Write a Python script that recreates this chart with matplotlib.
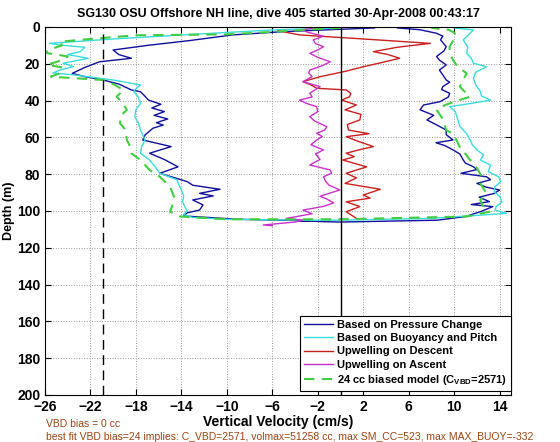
import matplotlib
matplotlib.use('Agg')
import matplotlib.pyplot as plt

plt.rcParams['font.family'] = ['Liberation Sans', 'DejaVu Sans']
plt.rcParams['mathtext.fontset'] = 'custom'
plt.rcParams['mathtext.rm'] = 'Liberation Sans:bold'
plt.rcParams['mathtext.bf'] = 'Liberation Sans:bold'

title = 'SG130 OSU Offshore NH line, dive 405 started 30-Apr-2008 00:43:17'

# Based on Pressure Change (descent, bottom, ascent)
press_depth = [0.5, 1.5, 2.5, 4.3, 7.4, 10, 12.5, 15, 17, 18.9, 22, 25.2, 27, 28.8, 31,
               34.2, 35.2, 37, 39.7, 42, 44, 46, 48, 50, 52, 53.3, 55, 58.7, 61.4, 65,
               68.6, 72, 76, 79.5, 84, 86, 88.2, 90.4, 91.8, 94, 96.7, 99.5, 101, 102.7,
               104.5, 105.3, 105.2, 105.8, 106, 105, 103, 100.4, 97.6, 96.5, 94.9, 92.5,
               90.5, 88.6, 87, 85, 83, 81.4, 79.5, 77.5, 76, 74, 72.3, 69, 66.8, 64.5,
               62.9, 61.4, 58.5, 56, 53, 50.5, 48, 45, 42.4, 40.6, 38, 36, 34, 32.4, 30,
               28.8, 26, 23.4, 20.6, 18, 16, 13, 10.7, 7, 5, 3.4, 1.5, 0.5]
press_vel = [3, -1, -5, -9.5, -13.3, -17, -20, -19.5, -18.4, -21.2, -22.5, -23.6, -22.5,
             -20.9, -19.5, -18.4, -17.6, -17.3, -16.9, -15.8, -16.6, -15.5, -16.4, -15.2,
             -16.2, -15.6, -16.5, -17.2, -17.4, -14.9, -16.8, -15.5, -14.3, -15.9, -13.5,
             -13, -10.6, -12.4, -11.2, -13, -12.1, -12.4, -13.5, -13.8, -9, -2.7, -3.8,
             -1.5, 0, 8.5, 11, 12.3, 13.4, 11.5, 13.1, 12.2, 13.5, 14, 12.8, 12, 13.2,
             12.85, 10.6, 12, 11.7, 11, 10.8, 10.5, 9.9, 9.2, 8.4, 9.9, 9.3, 9.3, 8.4,
             7.6, 8.2, 7, 7.3, 8.75, 9.5, 9.6, 8.9, 9, 9.6, 9.3, 9.0, 8.7, 9.3, 8.7,
             8.45, 9.1, 9.3, 8.8, 9, 8.45, 7, 5]

# Based on Buoyancy and Pitch
buoy_depth = [0.5, 1.6, 4, 6.5, 8.9, 9.8, 11, 13.4, 15, 17, 19.7, 21.5, 23.4, 25, 26,
              28.8, 31.5, 33, 35, 38, 41.5, 45, 48.7, 52, 56, 60, 61.4, 65, 68.6, 72.3,
              76, 79.5, 83, 86, 88.6, 92, 95, 97.6, 100, 102, 103.5, 104.5, 105, 105,
              104, 101.3, 99.5, 97.6, 95, 92, 89.5, 86.8, 84, 81.4, 78.6, 75, 72.3, 69.5,
              66.8, 64, 61.4, 58, 54, 50, 46, 43.3, 41.5, 39.7, 37.5, 35, 31.5, 27.9,
              24.5, 21.6, 19.7, 17, 14.3, 11, 7, 3.4, 1.6, 0.5]
buoy_vel = [0, -6, -13, -20, -25.6, -24.7, -22.5, -22.9, -24, -22.2, -24.4, -23.5, -24.7,
            -25.3, -23.5, -20, -17.6, -17.9, -18.2, -17.8, -17.6, -18, -18.1, -17.8,
            -17.6, -17.3, -17.2, -17.5, -17.6, -16.8, -16.3, -15.9, -14.4, -14.2, -14,
            -13.8, -13.9, -13.7, -13.5, -13.8, -13, -10, -2.7, 0, 8, 14.6, 13.6, 13.7,
            14.2, 14, 13.5, 13.6, 14.1, 13.9, 13, 13.2, 12.3, 12.6, 12, 11.6, 11.4, 11.1,
            10.5, 10.3, 10.1, 9.6, 11.5, 13.2, 12.4, 12.3, 11.9, 11.7, 11.9, 12.85, 11.7,
            11.5, 11.1, 11.2, 10.8, 11.4, 11.7, 10]

# Upwelling on Descent
updesc_depth = [2, 4.3, 6.5, 8.9, 11, 13.4, 15, 17, 19.5, 21.6, 24, 27, 29.7, 31.5, 33.3,
                34.2, 36, 37.9, 39.7, 42.4, 45, 47.5, 50.5, 53, 56, 58, 59.6, 62, 65, 66.5,
                68.6, 70.5, 72.3, 76, 79.5, 82, 85, 88.2, 91.3, 93, 95, 97.6, 100.4, 102,
                104]
updesc_vel = [-5.5, -3.6, 2, 7.9, 5, 2.9, 4.2, 5.2, 3.5, 2, 0.5, -1.8, -3.3, -2.6, -2.1,
              0.5, 0.9, 0.8, 0.1, 1.4, 0.4, 1.8, 1.7, 0.6, 0.7, 2.5, 0.5, 1.5, 2.9, 1.8,
              0.5, 1.2, 0.2, 2.3, 0.5, 1.4, 0.4, 3.5, 2, 2.6, 0.5, 1.7, 0.5, 0.9, 1.4]

# Upwelling on Ascent
upasc_depth = [108, 107.6, 106, 105, 104, 101.5, 99.5, 97.5, 95.6, 93.5, 92, 90, 88.6,
               86, 84, 81.4, 79.5, 77.7, 75, 72, 69, 66.8, 64, 61.4, 59.5, 57.8, 56,
               54.2, 51, 48.7, 46, 43.3, 41.5, 39.7, 38, 36, 34, 32.4, 31, 29.7, 27, 25,
               23.4, 21, 18.9, 16.5, 14.3, 12.5, 10.7, 9, 7, 5, 3, 1.5, 0.5]
upasc_vel = [-6, -6.8, -4, -3.3, -4.75, -2.5, -3.3, -1.5, -0.6, -1.2, -1.8, -0.8, -0.05,
             -1, -1.3, -1.5, -0.8, -0.9, -2.7, -1.8, -2.2, -1.5, -2.6, -2.1, -1.6, -2.1,
             -1.4, -1.2, -2.3, -2.7, -2.0, -2.1, -3.0, -3.6, -2.5, -2.7, -2.2, -1.8, -2.6,
             -3.3, -2.5, -2.8, -2.7, -1.6, -0.9, -2.0, -2.7, -2.0, -1.5, -2.2, -2.4, -1.5,
             -2.8, -3.5, -2]

# 24 cc biased model
model_depth = [0.5, 1.5, 3, 4, 4.5, 6.5, 8, 10, 12, 14, 16, 17.5, 19, 20.5, 22, 24, 25.2,
               27, 28.8, 31, 34.2, 37.9, 41, 45, 48, 52.3, 56, 61.4, 65, 68.6, 72.3, 77.7,
               81.4, 86.8, 90, 93, 97, 100.4, 103, 104.5, 104.5, 103, 100.4, 97, 94, 90,
               85, 81, 77.7, 75, 72.3, 69, 66.8, 64, 61.4, 58, 56, 50, 45, 42.4, 40, 37.9,
               35, 32.4, 28.5, 25.2, 21.5, 18, 14, 10.7, 7.5, 5.3, 3, 1.5, 0.5]
model_vel = [0, -3, -7, -10, -18, -22, -24.7, -24.5, -25.5, -26, -24, -24.3, -25, -25.8,
             -24.5, -24.5, -24.7, -25.5, -20.9, -20, -19.1, -19.7, -19.2, -18.8, -19.3,
             -19.4, -18.9, -18.8, -18.5, -18.4, -17.6, -16.8, -15.9, -15, -14.8, -14.6,
             -14.8, -15, -14.1, -10, 0, 11.1, 13.1, 12.5, 12.3, 12.8, 12.3, 12.4, 12.1,
             11.8, 11.4, 11, 10.6, 10.4, 10.2, 9.9, 9.3, 9.0, 8.45, 9.2, 10.3, 11.4, 10.9,
             10.5, 10.8, 11.1, 10.3, 9.9, 9.6, 9.6, 9.9, 10.2, 10.0, 9.5, 8]

vbd_line = -20.9
xticks = list(range(-26, 15, 4))
yticks = list(range(0, 201, 20))

fig = plt.figure(figsize=(5.6, 4.42), dpi=100)
ax = fig.add_axes([45 / 560, 1 - 395 / 442, 466 / 560, 368 / 442])

ax.plot(press_vel, press_depth, color='#10109A', lw=1.0, label='Based on Pressure Change')
ax.plot(buoy_vel, buoy_depth, color='#3ADCDC', lw=1.0, label='Based on Buoyancy and Pitch')
ax.plot(updesc_vel, updesc_depth, color='#C8201E', lw=1.0, label='Upwelling on Descent')
ax.plot(upasc_vel, upasc_depth, color='#C832C8', lw=1.0, label='Upwelling on Ascent')
ax.plot(model_vel, model_depth, color='#44CC44', lw=1.5, ls=(0, (5, 3.5)),
        label='24 cc biased model (C$_{\\mathrm{VBD}}$=2571)')

ax.axvline(vbd_line, color='black', lw=1.0, ls=(0, (7, 4)))
ax.axvline(0, color='black', lw=1.0)

ax.set_xlim(-26, 15)
ax.set_ylim(200, 0)
ax.set_xticks(xticks)
ax.set_yticks(yticks)
ax.grid(True, ls=':', color='#999999', lw=0.7)
ax.tick_params(direction='in', top=True, right=True, length=4, width=0.8,
               labelsize=10)
for lab in ax.get_xticklabels() + ax.get_yticklabels():
    lab.set_fontweight('bold')
for s in ax.spines.values():
    s.set_linewidth(0.8)

ax.set_title(title, fontsize=9, fontweight='bold', pad=7)
ax.set_xlabel('Vertical Velocity (cm/s)', fontsize=10, fontweight='bold', labelpad=1)
ax.set_ylabel('Depth (m)', fontsize=9, fontweight='bold')
ax.yaxis.set_label_coords(-0.064, 0.5)

leg = ax.legend(loc='lower right', bbox_to_anchor=(1.0, 4 / 368),
                prop={'weight': 'bold', 'size': 8}, handlelength=2.6,
                borderaxespad=0.0, fancybox=False, framealpha=1, edgecolor='black',
                labelspacing=0.3, borderpad=0.35, handletextpad=0.35)
leg.get_frame().set_linewidth(0.8)

brown = '#9A4414'
fig.text(46 / 560, 1 - 424 / 442, 'VBD bias = 0 cc', color=brown, fontsize=7.5,
         va='center')
fig.text(46 / 560, 1 - 437 / 442,
         'best fit VBD bias=24 implies: C_VBD=2571, volmax=51258 cc, max SM_CC=523, '
         'max MAX_BUOY=-332', color=brown, fontsize=7.5, va='center')

fig.savefig('out.png', dpi=100)
